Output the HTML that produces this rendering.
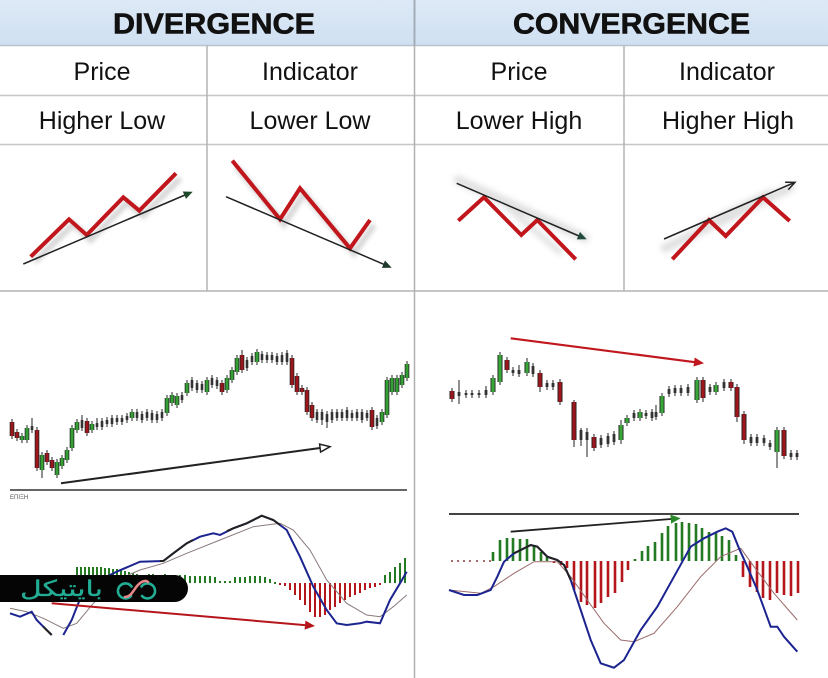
<!DOCTYPE html>
<html><head><meta charset="utf-8"><style>
html,body{margin:0;padding:0;background:#fff;}
svg{display:block;}
</style></head><body>
<svg width="828" height="678" viewBox="0 0 828 678" xmlns="http://www.w3.org/2000/svg">
<defs>
<linearGradient id="hd" x1="0" y1="0" x2="0" y2="1">
<stop offset="0" stop-color="#dde9f6"/><stop offset="1" stop-color="#cfe0f2"/>
</linearGradient>
<filter id="bl" x="-20%" y="-20%" width="140%" height="140%"><feGaussianBlur stdDeviation="2"/></filter>
<filter id="bl2" x="-20%" y="-50%" width="140%" height="200%"><feGaussianBlur stdDeviation="3"/></filter>
</defs>
<rect width="828" height="678" fill="#fff"/>
<!-- header -->
<rect x="0" y="0" width="828" height="46" fill="url(#hd)"/>
<line x1="0" y1="45.5" x2="828" y2="45.5" stroke="#b9c2cb" stroke-width="1.5"/>
<text x="113" y="33.5" font-family="Liberation Sans, Arial, sans-serif" font-weight="bold" font-size="29" textLength="202" lengthAdjust="spacingAndGlyphs" fill="#111" stroke="#111" stroke-width="0.6">DIVERGENCE</text>
<text x="513" y="33.5" font-family="Liberation Sans, Arial, sans-serif" font-weight="bold" font-size="29" textLength="237" lengthAdjust="spacingAndGlyphs" fill="#111" stroke="#111" stroke-width="0.6">CONVERGENCE</text>
<!-- table lines -->
<g stroke="#c6c6c6" stroke-width="1.5">
<line x1="0" y1="95.5" x2="828" y2="95.5"/>
<line x1="0" y1="144.5" x2="828" y2="144.5"/>
<line x1="0" y1="291" x2="828" y2="291" stroke-width="2"/>
<line x1="207" y1="46" x2="207" y2="291" stroke="#b4b4b4"/>
<line x1="624" y1="46" x2="624" y2="291" stroke="#b4b4b4"/>
</g>
<line x1="414.5" y1="0" x2="414.5" y2="46" stroke="#a3adb8" stroke-width="2"/>
<line x1="414.5" y1="46" x2="414.5" y2="678" stroke="#b0b0b0" stroke-width="1.5"/>
<g font-family="Liberation Sans, Arial, sans-serif" font-size="25" fill="#111" text-anchor="middle">
<text x="102" y="80">Price</text>
<text x="310" y="80">Indicator</text>
<text x="519" y="80">Price</text>
<text x="727" y="80">Indicator</text>
<text x="102" y="129">Higher Low</text>
<text x="310" y="129">Lower Low</text>
<text x="519" y="129">Lower High</text>
<text x="728" y="129">Higher High</text>
</g>
<!-- top diagrams: shadows -->
<g filter="url(#bl)" opacity="0.35" fill="none" stroke="#8a8a8a" stroke-width="6" stroke-linejoin="miter">
<polyline points="34.7,261.7 73,224.3 90.7,240 127.3,202.3 143.3,215.7 180,178.3"/>
<polyline points="236.3,166.7 284,224.3 304,193.3 354,253.3 374,225"/>
</g>
<g filter="url(#bl2)" opacity="0.25" stroke="#888" stroke-linecap="round">
<line x1="458" y1="180" x2="585" y2="238" stroke-width="9"/>
<line x1="490" y1="192" x2="560" y2="252" stroke-width="6"/>
<line x1="665" y1="248" x2="790" y2="188" stroke-width="9"/>
<line x1="700" y1="226" x2="770" y2="192" stroke-width="6"/>
</g>
<!-- top diagrams: lines -->
<g fill="none" stroke="#c0161c" stroke-width="4" stroke-linejoin="miter" stroke-linecap="butt">
<polyline points="30.7,256.7 69,219.3 86.7,235 123.3,197.3 139.3,210.7 176,173.3"/>
<polyline points="232.3,160.7 280,219.3 300,188.3 350,248.3 370,220"/>
<polyline points="458.3,220.7 484,197.3 521.3,235 537.3,220 575.7,259.3"/>
<polyline points="672.3,259.3 709,220 725.7,236 763,197.3 789.7,221"/>
</g>
<g stroke="#222" stroke-width="1.5" fill="none">
<line x1="23.3" y1="264" x2="185" y2="195"/>
<line x1="226" y1="196.7" x2="384" y2="264.4"/>
<line x1="456.7" y1="183.3" x2="579" y2="236"/>
<line x1="664" y1="239" x2="794" y2="182.7"/>
<polyline points="785.1,182.2 795,182.3 788.3,189.6"/>
</g>
<polygon points="192.7,191.7 186,198.9 182.8,191.5" fill="#1f4a2a"/>
<polygon points="391.7,267.7 381.9,267.9 385,260.5" fill="#1f3a2a"/>
<polygon points="586.7,239.3 576.8,239.4 580,232" fill="#1f4a3a"/>
<!-- bottom left price chart -->
<line x1="10" y1="490" x2="407" y2="490" stroke="#333" stroke-width="1.6"/>
<text x="10" y="499" font-family="Liberation Sans, sans-serif" font-size="6" fill="#555">ΕΠΙΞΗ</text>
<path d="M12 419V439M17 429V441M22 433V443M27 425V443M32 418V433M37 427V471M42 452V478M47 450V465M52 457V471M57 459V478M62 455V469M67 447V463M72 425V451M77 419V433M82 415V431M87 418V436M92 421V433M97 418V430M102 418V430M107 417V427M112 415V427M117 415V425M122 415V425M127 413V423M132 409V421M137 409V421M142 411V423M147 409V421M152 410V423M157 411V423M162 409V421M167 395V416M172 392V406M177 393V408M182 392V403M187 380V396M192 377V391M197 380V393M202 381V393M207 377V395M212 375V388M217 377V389M222 380V395M227 375V393M232 367V383M237 355V375M242 350V373M247 357V371M252 353V365M257 349V365M262 351V363M267 352V363M272 352V363M277 353V365M282 352V365M287 350V365M292 355V388M297 373V395M302 385V395M307 387V415M312 402V421M317 409V423M322 409V425M327 411V428M332 409V423M337 409V421M342 409V421M347 407V421M352 410V421M357 409V421M362 409V423M367 410V421M372 407V430M377 415V429M382 409V425M387 377V418M392 375V395M397 375V395M402 372V388M407 361V381" stroke="#222" stroke-width="1" fill="none"/>
<path d="M22 436V440M27 428V440M42 455V470M57 462V475M62 458V466M67 450V460M72 428V448M77 422V430M92 424V430M132 412V418M167 398V413M172 395V403M177 396V405M187 383V393M207 380V392M227 378V390M232 370V380M237 358V372M257 352V362M382 412V422M387 380V415M392 378V392M397 378V392M402 375V385M407 364V378M12 422V436M17 432V438M37 430V468M47 453V462M52 460V468M87 421V433M222 383V392M242 355V370M292 358V385M297 376V392M302 388V392M307 390V412M312 405V418M372 410V427" stroke="#222" stroke-width="4.6" fill="none"/>
<path d="M22 436V440M27 428V440M42 455V470M57 462V475M62 458V466M67 450V460M72 428V448M77 422V430M92 424V430M132 412V418M167 398V413M172 395V403M177 396V405M187 383V393M207 380V392M227 378V390M232 370V380M237 358V372M257 352V362M382 412V422M387 380V415M392 378V392M397 378V392M402 375V385M407 364V378" stroke="#34a034" stroke-width="3" fill="none"/>
<path d="M12 422V436M17 432V438M37 430V468M47 453V462M52 460V468M87 421V433M222 383V392M242 355V370M292 358V385M297 376V392M302 388V392M307 390V412M312 405V418M372 410V427" stroke="#9c161c" stroke-width="3" fill="none"/>
<path d="M32 426V430M82 420V428M97 423V427M102 421V427M107 420V424M112 418V424M117 418V422M122 418V422M127 416V420M137 412V418M142 414V420M147 412V418M152 413V420M157 414V420M162 412V418M182 395V400M192 380V388M197 383V390M202 384V390M212 378V385M217 380V386M247 360V368M252 356V362M262 354V360M267 355V360M272 355V360M277 356V362M282 355V362M287 353V362M317 412V420M322 412V420M327 414V422M332 412V420M337 412V418M342 412V418M347 410V418M352 413V418M357 412V418M362 412V420M367 413V418M377 418V426" stroke="#333" stroke-width="2.6" fill="none"/>
<line x1="61" y1="483.3" x2="320" y2="448" stroke="#222" stroke-width="2"/>
<polygon points="330,446.7 320.6,452 319.6,444.1" fill="#fff" stroke="#222" stroke-width="1.5"/>
<!-- bottom right price chart -->
<line x1="510.7" y1="338.3" x2="695" y2="362.2" stroke="#c0181e" stroke-width="2.2"/>
<polygon points="704,363.3 693.5,366.5 694.7,357.5" fill="#c0181e"/>
<path d="M452 388V402M459 380V404M466 390V398M472 390V398M479 390V398M486 386V398M493 375V395M500 352V385M507 357V373M513 367V376M519 365V377M527 358V376M533 363V377M540 370V392M547 380V390M553 380V390M560 379V405M574 400V447M581 428V446M587 428V457M594 434V451M601 435V448M608 433V447M614 431V445M621 420V444M627 415V426M634 410V421M640 409V421M646 410V419M652 409V421M656 405V420M662 393V416M669 386V397M675 385V396M681 385V396M688 384V396M697 377V403M703 377V402M710 384V395M716 382V395M724 379V391M731 379V391M737 384V422M744 411V444M751 434V446M757 434V446M764 435V446M770 440V450M777 427V468M784 427V459M791 450V460M797 450V460" stroke="#222" stroke-width="1" fill="none"/>
<path d="M493 378V392M500 355V382M527 362V373M621 425V440M627 418V423M640 412V418M662 396V413M697 380V400M716 385V392M777 430V452M452 391V399M507 360V370M540 373V387M560 382V402M574 402V440M594 437V448M703 380V398M731 382V388M737 387V417M744 414V440M784 430V456" stroke="#222" stroke-width="5" fill="none"/>
<path d="M493 378V392M500 355V382M527 362V373M621 425V440M627 418V423M640 412V418M662 396V413M697 380V400M716 385V392M777 430V452" stroke="#38a638" stroke-width="3.2" fill="none"/>
<path d="M452 391V399M507 360V370M540 373V387M560 382V402M574 402V440M594 437V448M703 380V398M731 382V388M737 387V417M744 414V440M784 430V456" stroke="#9c161c" stroke-width="3.2" fill="none"/>
<path d="M459 392V396M466 393V395M472 393V395M479 393V395M486 390V395M513 370V373M519 370V374M533 366V374M547 383V387M553 383V387M581 430V440M587 432V440M601 438V445M608 436V444M614 434V442M634 413V418M646 413V416M652 412V418M656 412V417M669 389V394M675 388V393M681 388V393M688 387V393M710 387V392M724 382V388M751 437V443M757 437V443M764 438V443M770 443V447M791 453V457M797 453V457" stroke="#333" stroke-width="2.8" fill="none"/>
<!-- right MACD -->
<line x1="449" y1="514" x2="799" y2="514" stroke="#444" stroke-width="2"/>
<line x1="510.7" y1="531.7" x2="671" y2="519" stroke="#222" stroke-width="1.8"/>
<polygon points="680.7,518.3 671.1,523.6 670.4,514.6" fill="#2a8a2a"/>
<path d="M493 552V561M500 540V561M507 538V561M513 538V561M520 539V561M527 539V561M534 545V561M541 552V561M547 557V561M642 551V561M648 546V561M655 542V561M662 533V561M668 526V561M676 523V561M682 522V561M689 523V561M696 524V561M702 528V561M709 532V561M716 533V561M722 536V561M729 540V561M736 555V561M635 559V561" stroke="#237a23" stroke-width="2.6" fill="none"/>
<path d="M554 561V563M561 561V565M567 561V568M574 561V590M581 561V602M587 561V605M595 561V608M601 561V603M608 561V597M615 561V593M622 561V582M628 561V570M743 561V577M750 561V587M757 561V592M763 561V598M770 561V600M777 561V593M784 561V595M791 561V596M798 561V593" stroke="#b5161c" stroke-width="2.6" fill="none"/>
<path d="M451 561h2M457 561h2M463 561h2M469 561h2M476 561h2M483 561h2M489 561h2" stroke="#8a3a3a" stroke-width="1.5"/>
<polyline points="449,590 480.7,593.3 494,586.7 514,573.3 534,561.7 557.3,561.7 570.7,576.7 587.3,600 604,623.3 620.7,640 634,641.7 654,633.3 677.3,606.7 700.7,576.7 720.7,556.7 740.7,548.3 754,566.7 774,593.3 797.3,620" fill="none" stroke="#9a6a6a" stroke-width="1"/>
<polyline points="449,590 464,595 477.3,595 490.7,590 497.3,576.7 504,561.7 514,553.3 530.7,545 537.3,546.7 547.3,556.7 557.3,560 564,565 570.7,580 580.7,610 590.7,640 600.7,663.3 614,667.7 624,660 640.7,630 657.3,606.7 674,576.7 690.7,546.7 704,538.3 717.3,531.7 725.7,528.3 732.3,531.7 739,548.3 747.3,566.7 757.3,590 770.7,626.7 777.3,626.7 784,636.7 797.3,651.7" fill="none" stroke="#1c2490" stroke-width="2"/>
<polyline points="514,553.3 530.7,545 537.3,546.7 547.3,556.7 557.3,560 564,565 570.7,580" fill="none" stroke="#222" stroke-width="2"/>
<!-- left MACD -->
<path d="M77 567V583M81 567V583M85 567V583M89 567V583M93 567V583M97 567V583M101 567V583M105 568V583M109 568V583M113 569V583M117 569V583M121 570V583M125 571V583M129 572V583M133 573V583M137 574V583M141 575V583M145 575V583M149 574V583M153 574V583M157 575V583M161 575V583M165 574V583M170 575V583M175 575V583M180 575V583M185 575V583M190 576V583M195 576V583M200 576V583M205 576V583M210 576V583M215 577V583M220 581V583M225 581V583M230 581V583M235 577V583M240 577V583M245 577V583M250 576V583M255 576V583M260 576V583M265 577V583M270 579V583M275 582V584M385 575V583M390 572V583M395 567V583M400 563V583M405 558V583" stroke="#237a23" stroke-width="2" fill="none"/>
<path d="M280 583V585M285 583V586M290 583V590M295 583V595M300 583V600M305 583V605M310 583V612M315 583V617M320 583V617M325 583V615M330 583V610M335 583V607M340 583V603M345 583V600M350 583V597M355 583V595M360 583V593M365 583V590M370 583V588M375 583V587M380 583V585" stroke="#b5161c" stroke-width="2" fill="none"/>
<polyline points="10,608.3 26.7,611.7 43.3,618.3 63.3,628.3 76.7,623.3 93.3,603.3 116.7,580 140,570 163.3,563.3 186.7,553.3 220,540 253.3,526.7 280,523.3 293.3,530 310,550 326.7,580 346.7,603.3 366.7,615 380,616.7 393.3,606.7 406.7,595" fill="none" stroke="#8a7a7a" stroke-width="1"/>
<polyline points="10,613.3 20,616.7 31.7,611.7 36.7,620 43.3,626.7 51.7,635" fill="none" stroke="#1c2490" stroke-width="2"/>
<polyline points="63.3,635 71.7,620 78.3,603.3 85,590 100,580 116.7,571.7 140,561.7 163.3,561 173.3,553.3 186.7,543.3 200,536.7 213.3,533.3 220,535 233.3,528.3 246.7,523.3 261.7,515.7 273.3,520 286.7,530 300,556.7 313.3,586.7 326.7,610 336.7,623.3 346.7,625 360,623.3 366.7,621.7 380,623.3 390,600 400,583.3 406.7,571.7" fill="none" stroke="#1c2490" stroke-width="2"/>
<polyline points="160,561 163.3,561 173.3,553.3 186.7,543.3 193,540" fill="none" stroke="#222" stroke-width="2"/>
<polyline points="227,531 233.3,528.3 246.7,523.3 261.7,515.7 273.3,520 280,525" fill="none" stroke="#222" stroke-width="2"/>
<polyline points="43.3,626.7 51.7,635" fill="none" stroke="#222" stroke-width="2"/>
<line x1="51.7" y1="603.3" x2="305" y2="625.1" stroke="#b5161c" stroke-width="2"/>
<polygon points="315,626 304.6,629.6 305.4,620.6" fill="#b5161c"/>
<!-- logo -->
<rect x="-20" y="575" width="208" height="27" rx="13.5" fill="#050505"/>
<text x="61.5" y="596" text-anchor="middle" font-family="DejaVu Sans, sans-serif" font-size="22" fill="#22ad94" stroke="#22ad94" stroke-width="0.3" direction="rtl" textLength="83" lengthAdjust="spacingAndGlyphs">بایتیکل</text>
<g fill="none" stroke-width="2.6" stroke-linecap="round">
<path d="M131.5 586.5 A7.5 7.5 0 1 0 131 596" stroke="#22ad94"/>
<path d="M141.5 586.5 A7.5 7.5 0 1 1 142 596" stroke="#22ad94"/>
<path d="M125 597 C132 597 134 588 139 584 C142 581 146 580 148 582" stroke="#e8878a"/>
</g>
</svg>
</body></html>
